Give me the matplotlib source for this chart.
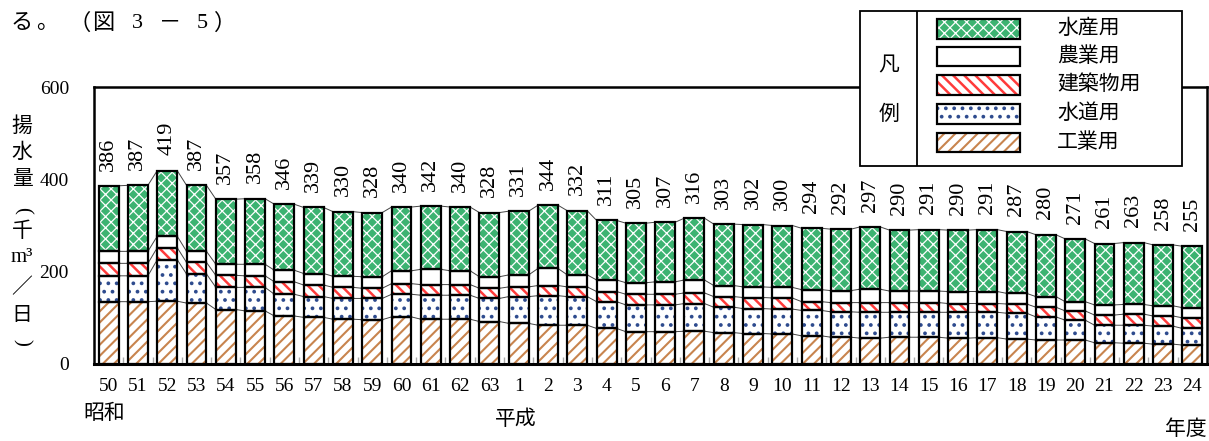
import numpy as np
import matplotlib
matplotlib.use('Agg')
import matplotlib.pyplot as plt
from matplotlib.patches import Rectangle

years = ['50', '51', '52', '53', '54', '55', '56', '57', '58', '59', '60', '61', '62', '63',
         '1', '2', '3', '4', '5', '6', '7', '8', '9', '10', '11', '12', '13', '14', '15',
         '16', '17', '18', '19', '20', '21', '22', '23', '24']
industrial = [135, 135, 136, 132, 118, 115, 104, 101, 97, 96, 102, 97, 97, 92, 88, 84, 84, 77, 70,
              70, 71, 68, 66, 65, 61, 58, 56, 58, 58, 56, 57, 54, 52, 52, 46, 45, 43, 41]
water = [56, 56, 90, 63, 48, 51, 47, 45, 45, 46, 49, 52, 52, 50, 58, 64, 62, 58, 58,
         58, 60, 55, 54, 54, 55, 55, 56, 54, 54, 56, 55, 56, 50, 43, 38, 39, 39, 36]
construction = [27, 27, 26, 25, 26, 25, 27, 25, 24, 22, 23, 23, 23, 22, 21, 22, 21, 22, 23,
                23, 23, 23, 24, 24, 19, 20, 21, 21, 21, 19, 19, 20, 21, 20, 22, 24, 22, 23]
agriculture = [26, 26, 25, 24, 24, 25, 25, 25, 24, 25, 28, 33, 30, 25, 26, 37, 26, 25, 25,
               27, 28, 24, 23, 23, 26, 26, 29, 25, 25, 26, 26, 23, 23, 20, 22, 21, 22, 22]
fisheries = [142, 143, 142, 143, 141, 142, 143, 143, 140, 139, 138, 137, 138, 139, 138, 137, 139, 129, 129,
             129, 134, 133, 135, 134, 133, 133, 135, 132, 133, 133, 134, 134, 134, 136, 133, 134, 132, 133]
totals = [386, 387, 419, 387, 357, 358, 346, 339, 330, 328, 340, 342, 340, 328, 331, 344, 332, 311, 305,
          307, 316, 303, 302, 300, 294, 292, 297, 290, 291, 290, 291, 287, 280, 271, 261, 263, 258, 255]
series_names = ['工業用', '水道用', '建築物用', '農業用', '水産用']
series_values = [industrial, water, construction, agriculture, fisheries]
yticks = [0, 200, 400, 600]

plt.rcParams['font.family'] = ['Liberation Serif', 'Noto Sans CJK JP']
plt.rcParams['hatch.linewidth'] = 1.6

W, H = 1209, 441
fig = plt.figure(figsize=(W / 100, H / 100), dpi=100)
ax = fig.add_axes([94 / W, 1 - 364 / H, (1207 - 94) / W, (364 - 87) / H])

styles = [
    dict(fc='white', hc='#c8844e', hatch='///', hlw=1.5),
    dict(fc='white', hc='#2e4b8e', hatch='..', hlw=1.5),
    dict(fc='white', hc='#ff3b3b', hatch='\\\\\\', hlw=1.8),
    dict(fc='white', hc='white', hatch=None, hlw=1.0),
    dict(fc='#3cb371', hc='white', hatch='xxx', hlw=0.9),
]


def hatched(artists, hlw):
    for a in artists:
        if hasattr(a, 'set_hatch_linewidth'):
            a.set_hatch_linewidth(hlw)


n = len(years)
x = np.arange(n)
w = 0.68
bottom = np.zeros(n)
levels = []
for vals, st in zip(series_values, styles):
    vals = np.array(vals, dtype=float)
    with plt.rc_context({'hatch.linewidth': st['hlw']}):
        bars = ax.bar(x, vals, w, bottom=bottom, color=st['fc'], edgecolor=st['hc'],
                      hatch=st['hatch'], linewidth=0, zorder=2)
    hatched(bars, st['hlw'])
    ax.bar(x, vals, w, bottom=bottom, fill=False, edgecolor='black', linewidth=1.6, zorder=3)
    bottom = bottom + vals
    levels.append(bottom.copy())

# connecting lines between bars
for lev in levels:
    xs, ys = [], []
    for i in range(n - 1):
        xs += [x[i] + w / 2, x[i + 1] - w / 2, np.nan]
        ys += [lev[i], lev[i + 1], np.nan]
    ax.plot(xs, ys, color='#444444', linewidth=0.7, zorder=1)

for xi, tot, top in zip(x, totals, levels[-1]):
    ax.annotate(str(tot), (xi, top), xytext=(0, 11), textcoords='offset points',
                rotation=90, ha='center', va='bottom', fontsize=16)

ax.set_xlim(-0.5, n - 0.5)
ax.set_ylim(0, 600)
ax.set_yticks(yticks)
ax.set_yticklabels([str(v) for v in yticks], fontsize=14)
ax.set_xticks(x)
ax.set_xticklabels(years, fontsize=14)
ax.tick_params(axis='both', which='major', length=0)
ax.tick_params(axis='y', pad=18)
ax.tick_params(axis='x', pad=10)
ax.set_xticks(x[:-1] + 0.5, minor=True)
ax.tick_params(axis='x', which='minor', direction='in', length=5, color='#aaaaaa', width=1)
for sp in ax.spines.values():
    sp.set_linewidth(1.8)
ax.spines['bottom'].set_linewidth(2.2)


def ftext(px, py, s, **kw):
    fig.text(px / W, 1 - py / H, s, **kw)


# title fragment
for cx, ch in [(22, 'る'), (47, '。'), (80, '（'), (103, '図'), (137, '3'),
               (170, '－'), (202, '5'), (225, '）')]:
    ftext(cx, 24, ch, fontsize=16, ha='center', va='center')

# y-axis label, vertical
for cy, ch, rot in [(127, '揚', 0), (153, '水', 0), (180, '量', 0), (210, '(', -90),
                    (232, '千', 0), (258, 'm³', 0), (288, '／', 0), (316, '日', 0),
                    (342, ')', -90)]:
    ftext(22, cy, ch, fontsize=15, ha='center', va='center', rotation=rot)

ftext(104, 414, '昭和', fontsize=15, ha='center', va='center')
ftext(516, 420, '平成', fontsize=15, ha='center', va='center')
ftext(1186, 430, '年度', fontsize=15, ha='center', va='center')

# legend box
lx0, ly0, lw_, lh_ = 860, 11, 322, 155
lax = fig.add_axes([lx0 / W, 1 - (ly0 + lh_) / H, lw_ / W, lh_ / H])
lax.set_zorder(5)
lax.set_xlim(0, lw_)
lax.set_ylim(lh_, 0)
lax.axis('off')
lax.add_patch(Rectangle((0, 0), lw_, lh_, facecolor='white', edgecolor='black',
                        linewidth=1.3, clip_on=False))
lax.plot([57, 57], [0, lh_], color='black', linewidth=1.3)
lax.text(29, 56, '凡', fontsize=15, ha='center', va='center')
lax.text(29, 104, '例', fontsize=15, ha='center', va='center')
row_tops = [8.3, 35.7, 64, 93.3, 121.7]
for k, top in enumerate(row_tops):
    idx = 4 - k
    st = styles[idx]
    with plt.rc_context({'hatch.linewidth': st['hlw']}):
        p = lax.add_patch(Rectangle((77, top), 83, 19.5, facecolor=st['fc'], edgecolor=st['hc'],
                                    hatch=st['hatch'], linewidth=0))
    hatched([p], st['hlw'])
    lax.add_patch(Rectangle((77, top), 83, 19.5, fill=False, edgecolor='black', linewidth=1.6))
    lax.text(197, top + 10, series_names[idx], fontsize=15, ha='left', va='center')

fig.savefig('out.png', dpi=100)
